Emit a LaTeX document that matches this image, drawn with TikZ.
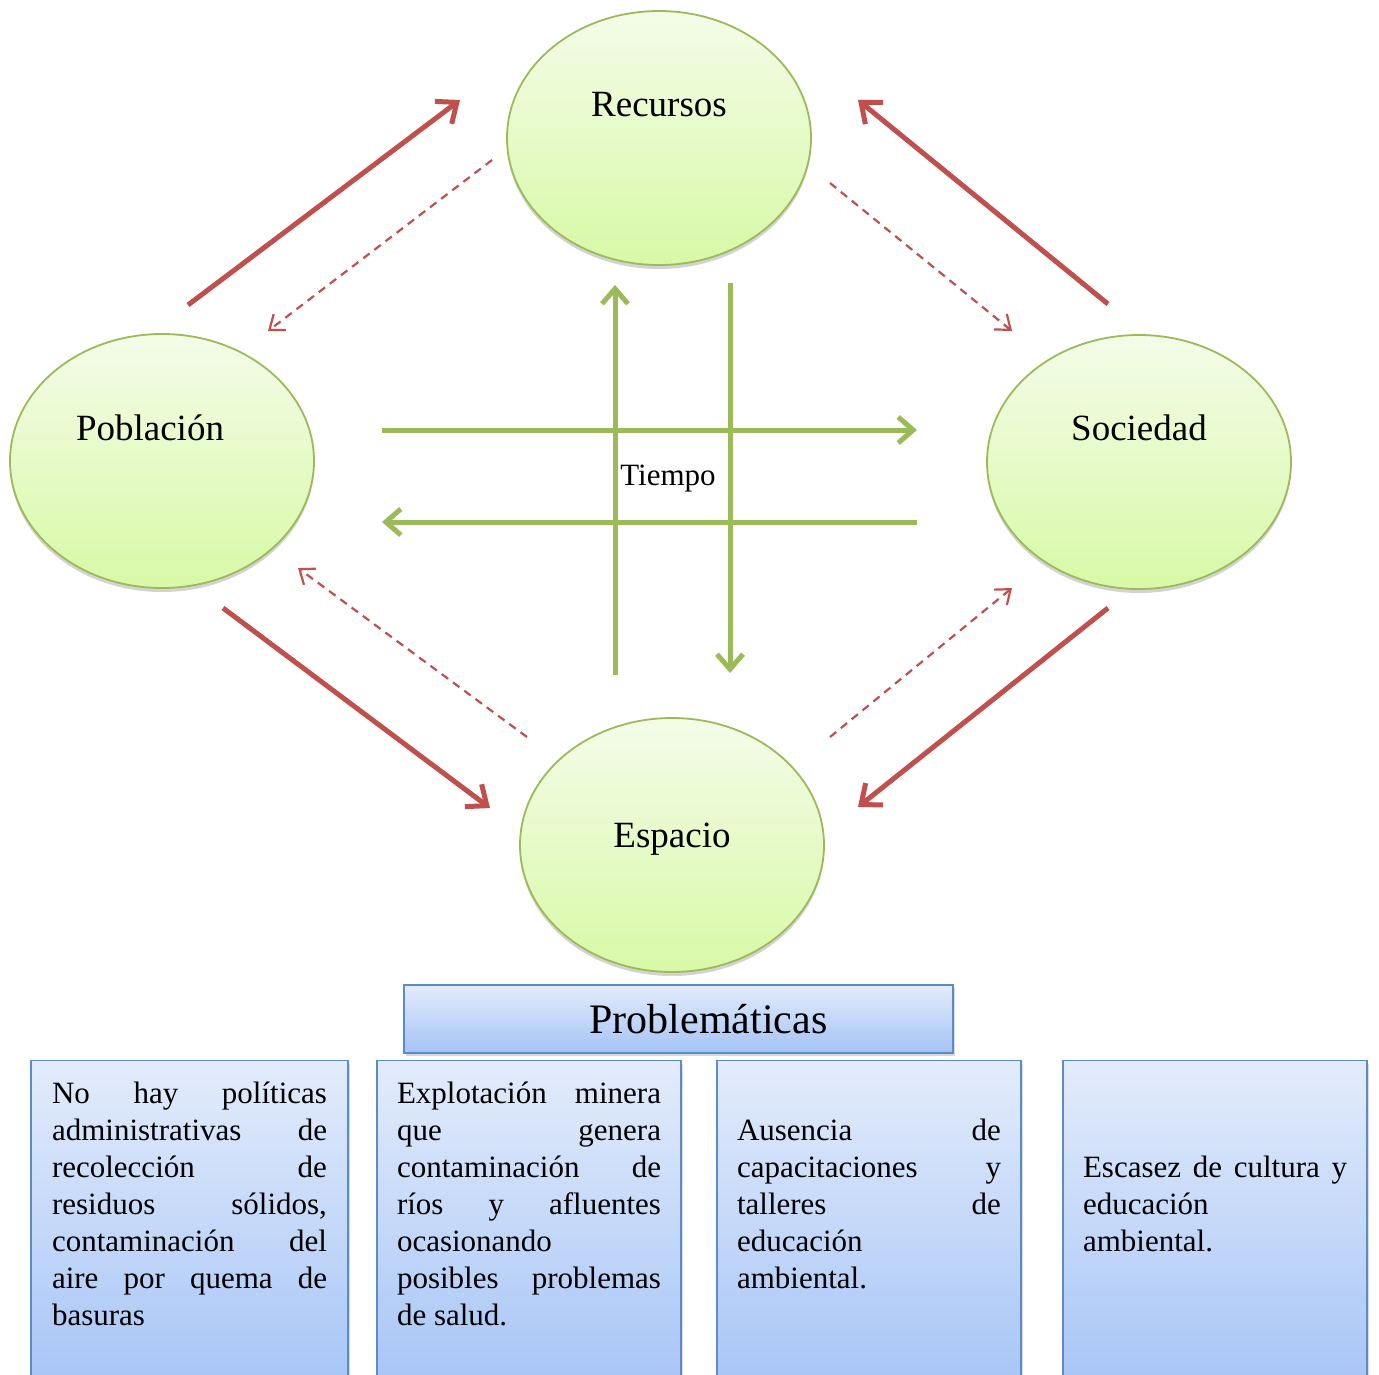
\documentclass[tikz,border=0pt]{standalone}
\usepackage{fontspec}
\setmainfont{Liberation Serif}
\usetikzlibrary{shapes.geometric}
\usetikzlibrary{arrows.meta}
\usetikzlibrary{shadows}
\definecolor{rojo}{HTML}{C0504D}
\definecolor{verde}{HTML}{9BBB59}
\definecolor{azul}{HTML}{5B8BCB}
\definecolor{elarriba}{HTML}{F4FCE9}
\definecolor{elabajo}{HTML}{D8F9A6}
\definecolor{cjarriba}{HTML}{E3ECFB}
\definecolor{cjabajo}{HTML}{A4C3F6}

\begin{document}
\begin{tikzpicture}[x=1pt,y=-1pt,inner sep=0pt,
  elip/.style={draw=verde,line width=1.8pt,ellipse,minimum width=304pt,minimum height=254pt,top color=elarriba,bottom color=elabajo,drop shadow={opacity=.35,shadow xshift=0pt,shadow yshift=-4pt}},
  caja/.style={draw=azul,line width=1.3pt,rectangle,top color=cjarriba,bottom color=cjabajo,drop shadow={opacity=.3,shadow xshift=2pt,shadow yshift=-3pt}},
  etq/.style={font=\fontsize{37}{44}\selectfont},
  txt/.style={font={\fontsize{31}{37}\selectfont\tolerance=10000\relax\hbadness=10000\relax},align=justify},
  rel/.style={rojo,line width=5pt,-{Straight Barb[length=17pt,width=28pt]}},
  ret/.style={rojo,line width=2.2pt,dash pattern=on 8pt off 6pt,-{Straight Barb[length=13pt,width=20pt]}},
  tie/.style={verde,line width=5pt,-{Straight Barb[length=15pt,width=26pt]}}]
\useasboundingbox (0,0) rectangle (1379,1374);

\node[elip,label={[etq,yshift=33pt]center:Recursos}] (rec) at (659,138) {};
\node[elip,label={[etq,xshift=-12pt,yshift=33pt]center:Población}] (pob) at (162,461) {};
\node[elip,label={[etq,yshift=34pt]center:Sociedad}] (soc) at (1139,462) {};
\node[elip,label={[etq,yshift=6pt]center:Espacio}] (esp) at (672,845) {};

\coordinate (pr0) at (188,305); \coordinate (pr1) at (460,100);
\coordinate (sr0) at (1108,304); \coordinate (sr1) at (858,100);
\coordinate (pe0) at (223,608); \coordinate (pe1) at (490,808);
\coordinate (se0) at (1108,608); \coordinate (se1) at (858,807);
\coordinate (rp0) at (492,160); \coordinate (rp1) at (268,331);
\coordinate (rs0) at (830,183); \coordinate (rs1) at (1012,331);
\coordinate (ep0) at (527,737); \coordinate (ep1) at (298,568);
\coordinate (es0) at (830,737); \coordinate (es1) at (1012,588);
\draw[rel] (pr0) -- (pr1);
\draw[rel] (sr0) -- (sr1);
\draw[rel] (pe0) -- (pe1);
\draw[rel] (se0) -- (se1);
\draw[ret] (rp0) -- (rp1);
\draw[ret] (rs0) -- (rs1);
\draw[ret] (ep0) -- (ep1);
\draw[ret] (es0) -- (es1);

\coordinate (h0) at (382,430); \coordinate (h1) at (917,430);
\coordinate (g0) at (917,522); \coordinate (g1) at (382,522);
\coordinate (v0) at (615,675); \coordinate (v1) at (615,285);
\coordinate (w0) at (730,283); \coordinate (w1) at (730,673);
\draw[tie] (h0) -- (h1);
\draw[tie] (g0) -- (g1);
\draw[tie] (v0) -- (v1);
\draw[tie] (w0) -- (w1);
\node[font=\fontsize{31}{37}\selectfont] (tie) at (668,479) {Tiempo};

\node[caja,minimum width=549pt,minimum height=68pt,label={[font=\fontsize{42}{50}\selectfont,xshift=30pt]center:Problemáticas}] (prob) at (678.5,1019) {};
\node[caja,minimum width=317pt,minimum height=340pt,anchor=north] (c1) at (189.5,1060) {};
\node[caja,minimum width=304pt,minimum height=340pt,anchor=north] (c2) at (529,1060) {};
\node[caja,minimum width=304pt,minimum height=340pt,anchor=north] (c3) at (869,1060) {};
\node[caja,minimum width=304pt,minimum height=340pt,anchor=north] (c4) at (1215,1060) {};
\node[txt,text width=275pt] (t1) at (189.5,1204) {No hay políticas\linebreak administrativas de\linebreak recolección de\linebreak residuos sólidos,\linebreak contaminación del\linebreak aire por quema de\linebreak basuras};
\node[txt,text width=264pt] (t2) at (529,1204) {Explotación minera\linebreak que genera\linebreak contaminación de\linebreak ríos y afluentes\linebreak ocasionando\linebreak posibles problemas\linebreak de salud.};
\node[txt,text width=264pt] (t3) at (869,1204) {Ausencia de\linebreak capacitaciones y\linebreak talleres de\linebreak educación\linebreak ambiental.};
\node[txt,text width=264pt] (t4) at (1215,1204) {Escasez de cultura y\linebreak educación\linebreak ambiental.};
\end{tikzpicture}
\end{document}
